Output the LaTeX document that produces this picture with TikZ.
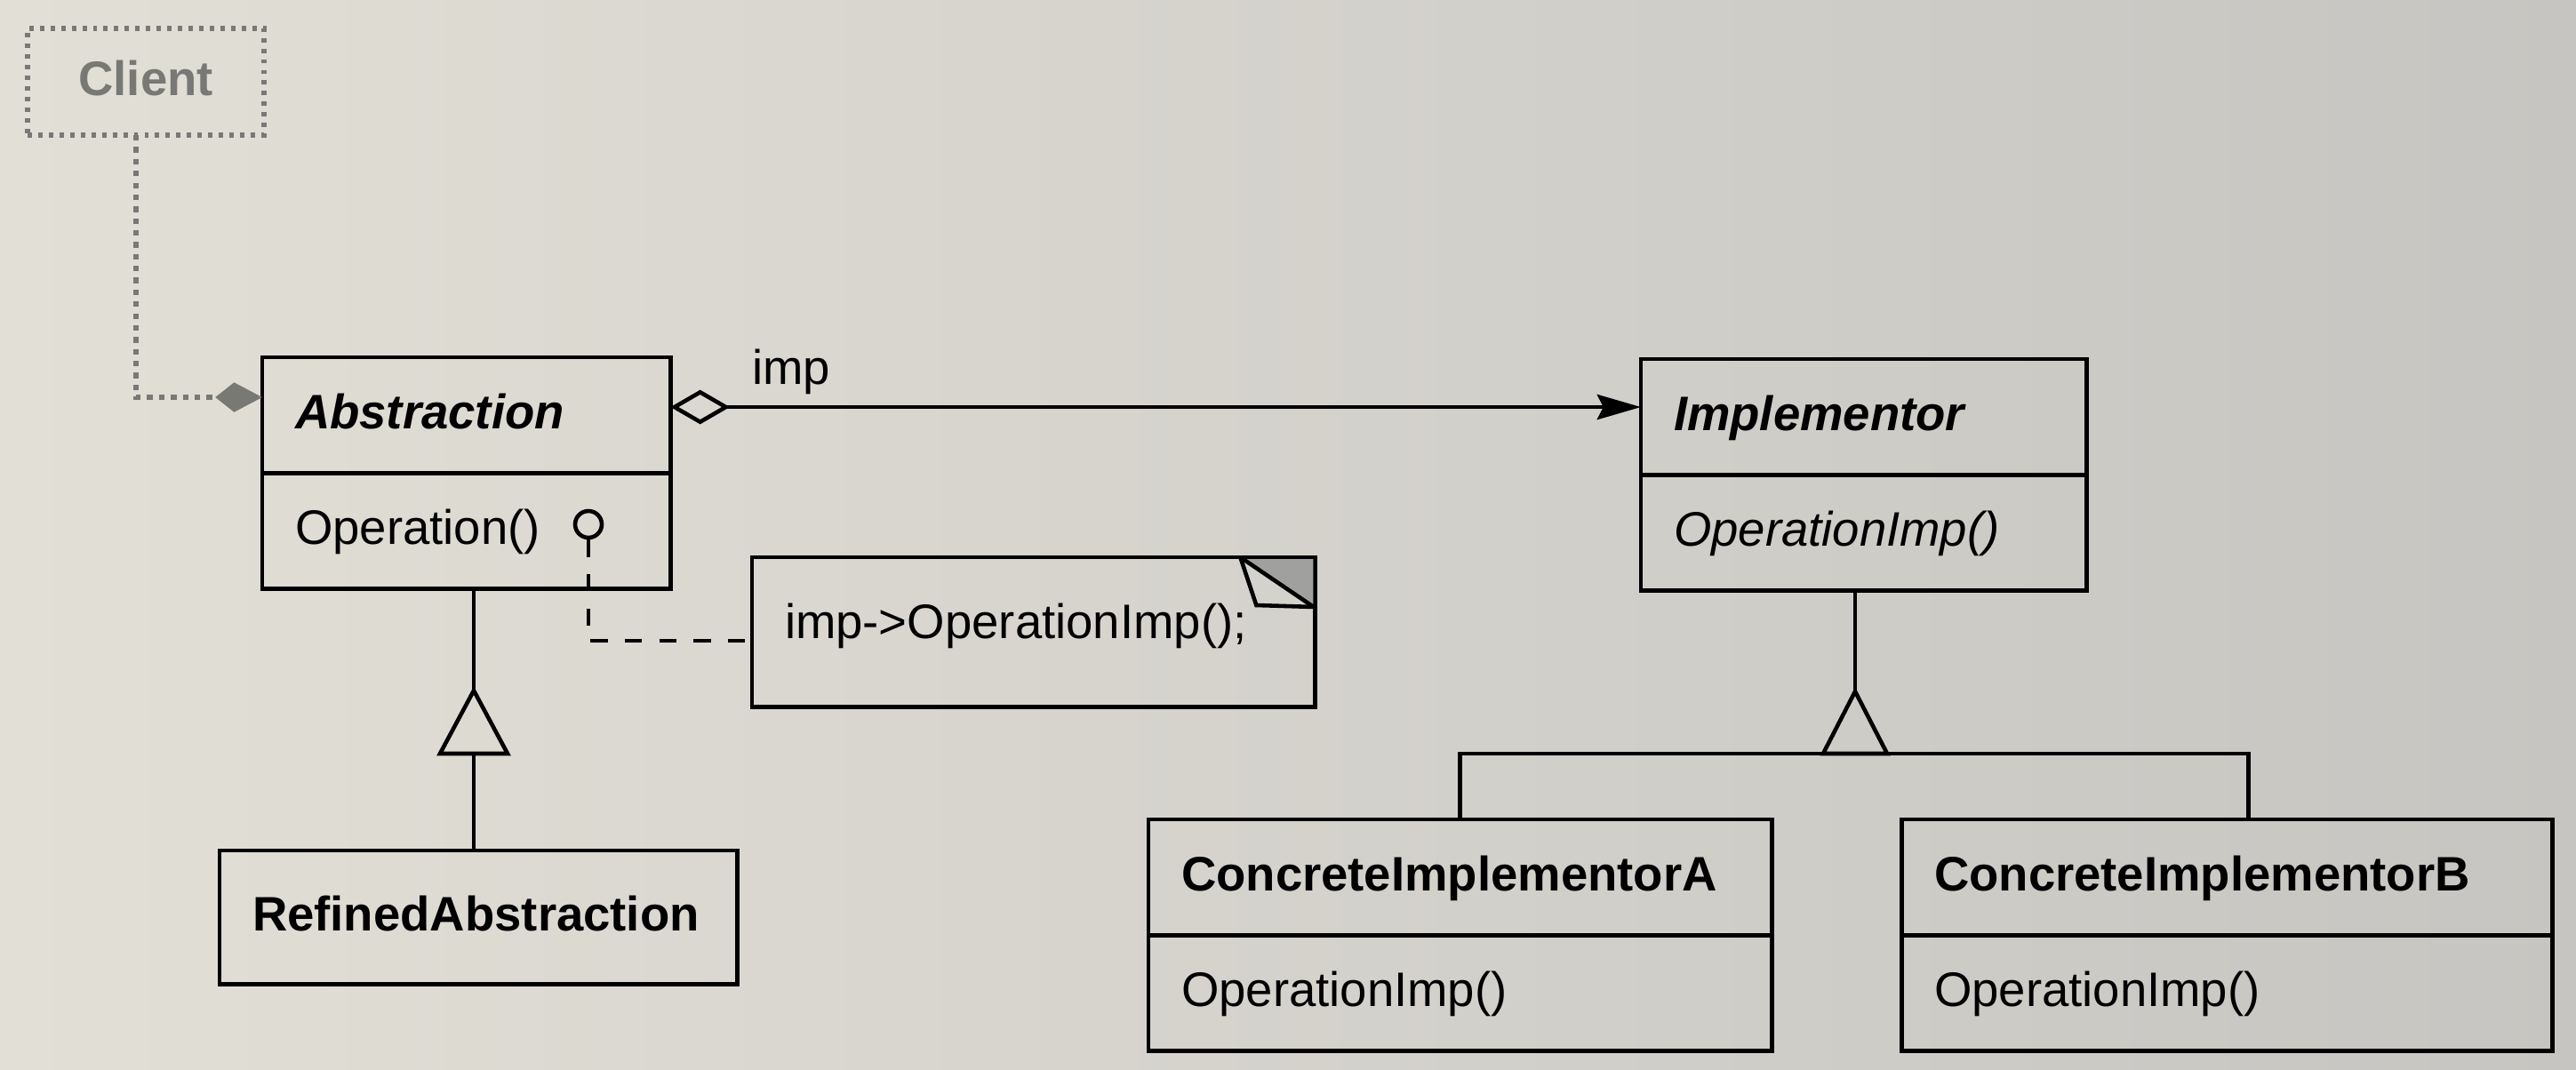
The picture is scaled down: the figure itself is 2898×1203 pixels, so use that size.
\documentclass[tikz,border=0pt]{standalone}
\usepackage{fontspec}
\setmainfont{Liberation Sans}
\usepackage{xcolor}
\usetikzlibrary{arrows.meta,positioning}

\definecolor{paperleft}{RGB}{226,223,214}
\definecolor{paperright}{RGB}{198,197,193}
\definecolor{halftone}{RGB}{120,120,117}
\newcommand{\umlfont}{\fontsize{15.5}{18}\selectfont}

\begin{document}
\begin{tikzpicture}[x=0.01cm, y=-0.01cm,
    classbox/.style={draw, line width=1.4pt, anchor=north west, align=left,
        inner xsep=0.37cm, inner ysep=0pt, outer sep=0pt, minimum height=1.3cm,
        text height=0.36cm, text depth=0.06cm, font=\umlfont},
    notebox/.style={classbox, minimum height=1.68cm, text depth=0.22cm},
    link/.style={line width=1.3pt},
    clientlink/.style={halftone, line width=1.8pt, dotted},
    inherit/.style={line width=1.3pt, line join=miter}]

    % Paper
    \shade[left color=paperleft, right color=paperright] (0,0) rectangle (2898,1203);
    \useasboundingbox (0,0) rectangle (2898,1203);

    % Client (halftone)
    \node[classbox, draw=halftone, dotted, line width=1.8pt, text=halftone,
        align=center, text width=1.92cm, minimum height=1.2cm,
        font=\umlfont\bfseries] (client) at (31,32) {Client};

    % Abstraction side
    \node[classbox, text width=3.85cm, font=\umlfont\bfseries\itshape] (abs) at (295,402) {Abstraction};
    \node[classbox, text width=3.85cm] (absops) at (abs.south west) {Operation()};
    \node[classbox, text width=5.08cm, minimum height=1.5cm, font=\umlfont\bfseries] (refined) at (247,957) {RefinedAbstraction};

    % Implementor side
    \node[classbox, text width=4.27cm, font=\umlfont\bfseries\itshape] (impl) at (1846,404) {Implementor};
    \node[classbox, text width=4.27cm, font=\umlfont\itshape] (implops) at (impl.south west) {OperationImp()};
    \node[classbox, text width=6.27cm, font=\umlfont\bfseries] (concA) at (1292,922) {ConcreteImplementorA};
    \node[classbox, text width=6.27cm] (concAops) at (concA.south west) {OperationImp()};
    \node[classbox, text width=6.58cm, font=\umlfont\bfseries] (concB) at (2139,922) {ConcreteImplementorB};
    \node[classbox, text width=6.58cm] (concBops) at (concB.south west) {OperationImp()};

    % Note with folded corner
    \node[notebox, text width=5.59cm] (note) at (846,627) {imp->OperationImp();};
    \begin{scope}[shift={(note.north east)}]
        \fill[halftone!70] (-82,2) -- (-2,2) -- (-2,55) -- cycle;
        \draw[link] (-84,0) -- (0,57);
        \draw[link] (-84,0) .. controls (-74,30) .. (-66,54) -- (0,56);
    \end{scope}

    % Note link
    \node[circle, draw, line width=1.3pt, minimum size=0.3cm, inner sep=0pt] (pin) at (662,590) {};
    \draw[link, dash pattern=on 5.5pt off 5.5pt] (pin.south) |- ([yshift=-0.94cm]note.north west);

    % imp association
    \coordinate (impstart) at ([yshift=-0.56cm]abs.north east);
    \draw[link, {Diamond[open, length=19pt, width=11pt]}-{Stealth[length=14pt, width=8pt, inset=2pt]}]
        (impstart) -- (impstart -| impl.west);
    \node[anchor=base west, font=\umlfont] (implbl) at (834,432) {imp};

    % Client association
    \draw[clientlink, -{Kite[length=15pt, width=9.5pt, inset=6pt]}]
        ([xshift=-0.11cm]client.south) |- ([yshift=-0.45cm]abs.north west);

    % Inheritance: Abstraction
    \coordinate (abstip) at (533,777);
    \coordinate (absbase) at (533,848);
    \draw[link] (abstip |- absops.south) -- (abstip);
    \draw[inherit] (abstip) -- ++(-38,71) -- ++(76,0) -- cycle;
    \draw[link] (absbase) -- (absbase |- refined.north);

    % Inheritance: Implementor
    \coordinate (impltip) at (2087,778);
    \coordinate (implbase) at (2087,848);
    \draw[link] (impltip |- implops.south) -- (impltip);
    \draw[inherit] (impltip) -- ++(-36,70) -- ++(72,0) -- cycle;
    \draw[link] (concA.north) |- (implbase) -| ([xshift=0.24cm]concB.north);
\end{tikzpicture}
\end{document}
